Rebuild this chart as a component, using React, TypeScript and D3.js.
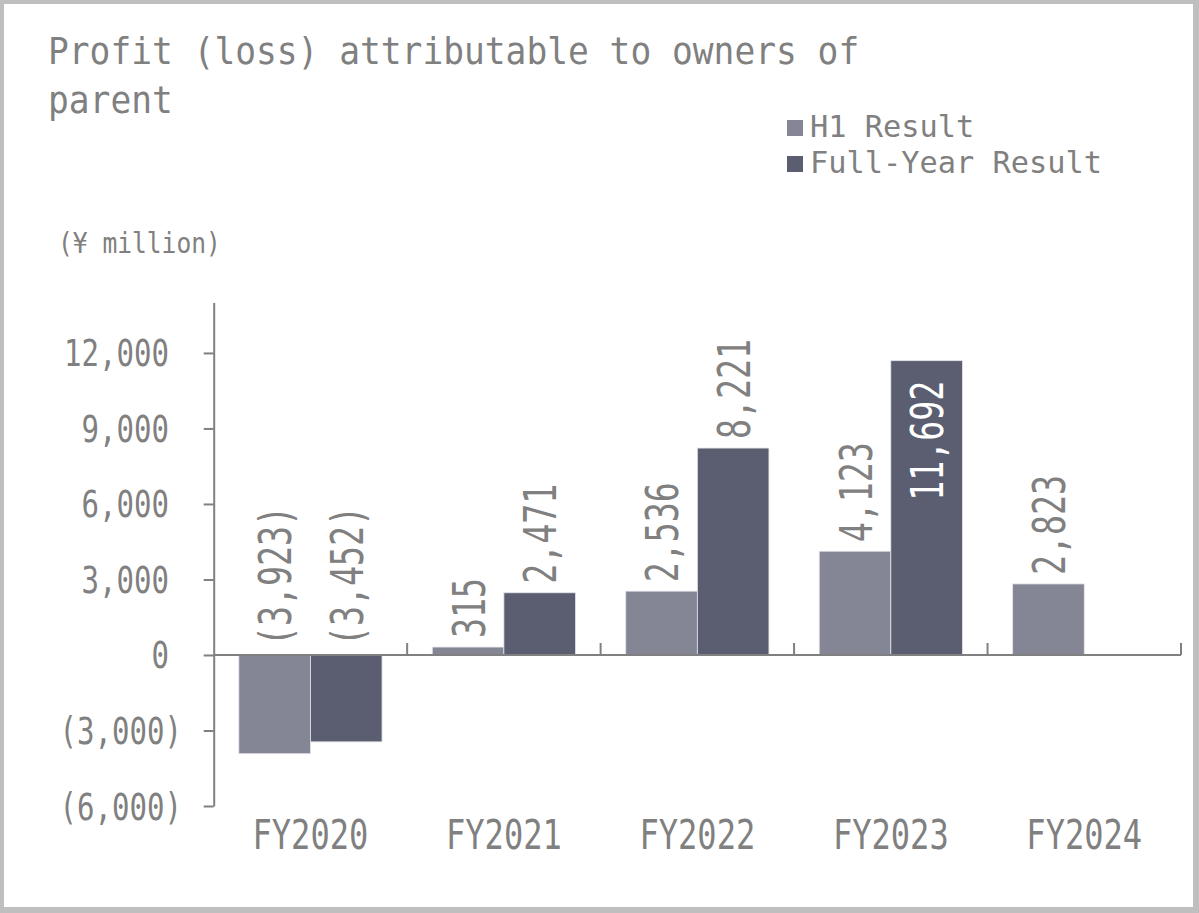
import React, { useEffect, useRef } from 'react';
import * as d3 from 'd3';

// chart data
const categories = ['FY2020', 'FY2021', 'FY2022', 'FY2023', 'FY2024'];
const h1Result: (number | null)[] = [-3923, 315, 2536, 4123, 2823];
const fullYearResult: (number | null)[] = [-3452, 2471, 8221, 11692, null];
const seriesNames = ['H1 Result', 'Full-Year Result'];
const yTicks = [-6000, -3000, 0, 3000, 6000, 9000, 12000];

const W = 1199;
const H = 913;
const FONT = "'DejaVu Sans Mono', monospace";
const GREY = '#808080';
const COLORS = ['#848696', '#5a5e70'];

const fmt = (v: number) => {
  const s = d3.format(',')(Math.abs(v));
  return v < 0 ? `(${s})` : s;
};

const App = () => {
  const svgRef = useRef<SVGSVGElement | null>(null);

  useEffect(() => {
    const svg = d3.select(svgRef.current);
    svg.selectAll('*').remove();

    // text with a fixed cell width per character (narrow, tall glyphs)
    const addText = (
      parent: any,
      str: string,
      o: { x: number; y: number; size: number; cell: number; anchor?: string; fill?: string; transform?: string }
    ) => {
      const t = parent
        .append('text')
        .attr('x', o.x)
        .attr('y', o.y)
        .attr('font-family', FONT)
        .attr('font-size', o.size)
        .attr('fill', o.fill || GREY)
        .attr('text-anchor', o.anchor || 'start')
        .attr('textLength', str.length * o.cell)
        .attr('lengthAdjust', 'spacingAndGlyphs')
        .text(str);
      if (o.transform) t.attr('transform', o.transform);
      return t;
    };

    // frame
    svg.append('rect').attr('width', W).attr('height', H).attr('fill', '#bfbfbf');
    svg.append('rect').attr('x', 4).attr('y', 4).attr('width', W - 10).attr('height', H - 10).attr('fill', '#fff');

    // title
    addText(svg, 'Profit (loss) attributable to owners of', { x: 48, y: 64, size: 38, cell: 20.8 });
    addText(svg, 'parent', { x: 48, y: 113, size: 38, cell: 20.8 });

    // legend
    seriesNames.forEach((name, i) => {
      const ly = 120 + i * 36;
      svg.append('rect').attr('x', 787).attr('y', ly).attr('width', 16).attr('height', 16).attr('fill', COLORS[i]);
      addText(svg, name, { x: 810, y: ly + 17, size: 31, cell: 18.25 });
    });

    // unit
    addText(svg, '(¥ million)', { x: 58, y: 253, size: 29, cell: 14.8 });

    // scales
    const x0 = d3.scaleBand().domain(categories).range([213.7, 1181]).padding(0);
    const x1 = d3.scaleBand().domain(['h1', 'fy']).range([0, x0.bandwidth()]).paddingInner(0).paddingOuter(0.351);
    const y = d3.scaleLinear().domain([-6000, 14000]).range([806, 302.6]);

    // y axis
    const yAxis = svg
      .append('g')
      .attr('transform', 'translate(213.7,0)')
      .call(
        d3
          .axisLeft(y)
          .tickValues(yTicks)
          .tickSize(10)
          .tickSizeOuter(0)
          .tickFormat(() => '')
      );
    yAxis.selectAll('path, line').attr('stroke', GREY).attr('stroke-width', 2);

    yTicks.forEach((v) => {
      addText(svg, fmt(v), {
        x: v < 0 ? 182 : 169,
        y: y(v) + 13.5,
        size: 37,
        cell: 17.5,
        anchor: 'end',
      });
    });

    // bars
    const series = [
      { key: 'h1', values: h1Result, color: COLORS[0] },
      { key: 'fy', values: fullYearResult, color: COLORS[1] },
    ];
    const plotTop = y(14000);
    const labelCell = 20;

    series.forEach((s) => {
      categories.forEach((c, i) => {
        const v = s.values[i];
        if (v === null) return;
        const bx = (x0(c) as number) + (x1(s.key) as number);
        const bw = x1.bandwidth();
        const top = y(Math.max(0, v));
        const bottom = y(Math.min(0, v));
        svg
          .append('rect')
          .attr('x', bx)
          .attr('y', top)
          .attr('width', bw)
          .attr('height', bottom - top)
          .attr('fill', s.color)
          .attr('stroke', '#e4e4ea')
          .attr('stroke-width', 0.8);

        const label = fmt(v);
        const cx = bx + bw / 2;
        const bx2 = cx + 16.5;
        const outsideStart = y(Math.max(0, v)) - 9;
        const fits = outsideStart - label.length * labelCell >= plotTop;
        if (fits) {
          addText(svg, label, {
            x: bx2,
            y: outsideStart,
            size: 45,
            cell: labelCell,
            transform: `rotate(-90,${bx2},${outsideStart})`,
          });
        } else {
          const ey = top + 20;
          addText(svg, label, {
            x: bx2,
            y: ey,
            size: 45,
            cell: labelCell,
            anchor: 'end',
            fill: '#ffffff',
            transform: `rotate(-90,${bx2},${ey})`,
          });
        }
      });
    });

    // x axis
    const y0 = y(0);
    svg
      .append('line')
      .attr('x1', x0.range()[0])
      .attr('x2', x0.range()[1])
      .attr('y1', y0)
      .attr('y2', y0)
      .attr('stroke', GREY)
      .attr('stroke-width', 2);
    categories.forEach((c) => {
      const tx = (x0(c) as number) + x0.bandwidth();
      svg
        .append('line')
        .attr('x1', tx)
        .attr('x2', tx)
        .attr('y1', y0)
        .attr('y2', y0 - 12)
        .attr('stroke', GREY)
        .attr('stroke-width', 2);
      addText(svg, c, {
        x: (x0(c) as number) + x0.bandwidth() / 2,
        y: 849,
        size: 41,
        cell: 19.3,
        anchor: 'middle',
      });
    });
  }, []);

  return (
    <svg
      ref={svgRef}
      width={W}
      height={H}
      style={{ position: 'absolute', left: 0, top: 0, display: 'block' }}
    />
  );
};

export default App;
